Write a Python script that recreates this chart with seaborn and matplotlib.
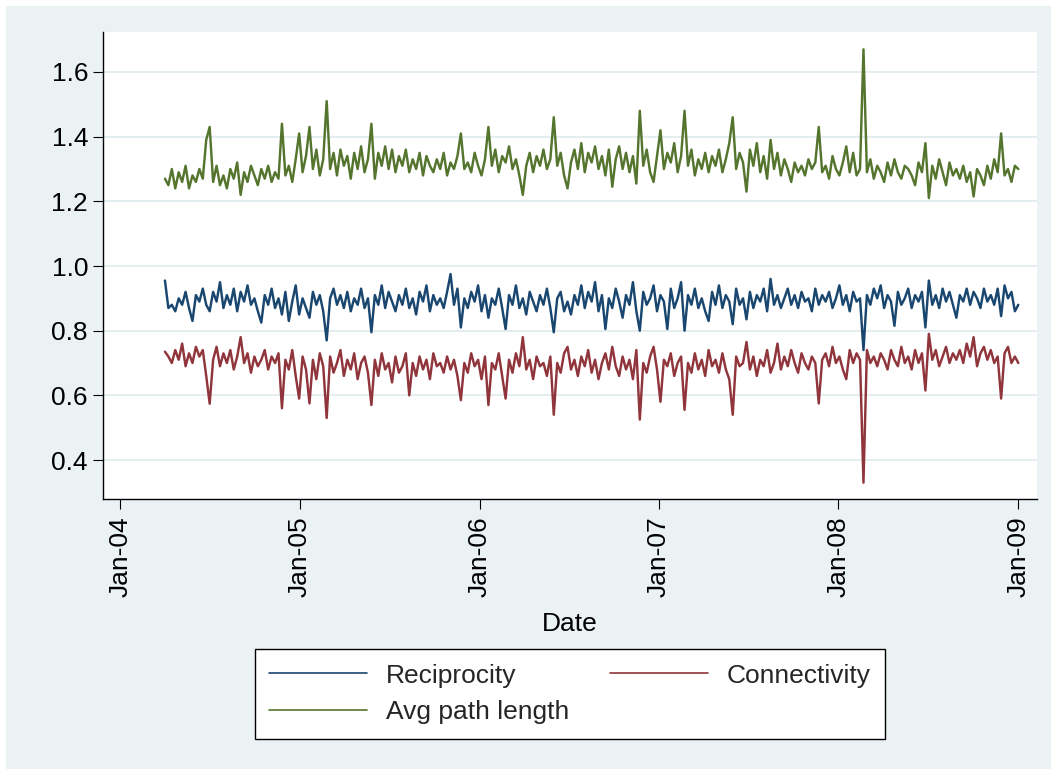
import numpy as np
import pandas as pd
import matplotlib
matplotlib.use("Agg")
import matplotlib.pyplot as plt
import seaborn as sns
from matplotlib.lines import Line2D
from matplotlib.patches import Rectangle

sns.set_theme(style="white")
plt.rcParams["font.family"] = ["Liberation Sans", "DejaVu Sans"]

series_names = ["Reciprocity", "Connectivity", "Avg path length"]
start_date = "2004-04-01"

reciprocity = [
    0.955, 0.87, 0.88, 0.86, 0.90, 0.88, 0.92, 0.87, 0.83, 0.91,
    0.89, 0.93, 0.88, 0.86, 0.92, 0.89, 0.95, 0.87, 0.91, 0.88,
    0.93, 0.86, 0.92, 0.89, 0.94, 0.88, 0.90, 0.86, 0.825, 0.91,
    0.88, 0.93, 0.87, 0.90, 0.85, 0.92, 0.83, 0.89, 0.94, 0.85,
    0.90, 0.87, 0.84, 0.92, 0.88, 0.91, 0.86, 0.77, 0.90, 0.93,
    0.88, 0.91, 0.87, 0.92, 0.86, 0.90, 0.88, 0.93, 0.87, 0.90,
    0.795, 0.91, 0.88, 0.94, 0.87, 0.92, 0.89, 0.86, 0.91, 0.88,
    0.93, 0.87, 0.90, 0.85, 0.92, 0.89, 0.94, 0.86, 0.91, 0.88,
    0.90, 0.87, 0.92, 0.975, 0.88, 0.93, 0.81, 0.90, 0.87, 0.92,
    0.89, 0.94, 0.86, 0.91, 0.84, 0.90, 0.88, 0.93, 0.87, 0.805,
    0.91, 0.88, 0.94, 0.87, 0.90, 0.85, 0.92, 0.89, 0.86, 0.91,
    0.88, 0.93, 0.87, 0.795, 0.90, 0.92, 0.86, 0.89, 0.85, 0.91,
    0.88, 0.94, 0.87, 0.92, 0.89, 0.95, 0.86, 0.91, 0.805, 0.90,
    0.87, 0.93, 0.89, 0.84, 0.91, 0.88, 0.95, 0.86, 0.80, 0.92,
    0.88, 0.90, 0.94, 0.86, 0.91, 0.89, 0.805, 0.93, 0.87, 0.90,
    0.95, 0.80, 0.91, 0.88, 0.93, 0.87, 0.90, 0.86, 0.83, 0.92,
    0.88, 0.94, 0.87, 0.91, 0.89, 0.82, 0.93, 0.88, 0.90, 0.835,
    0.92, 0.87, 0.91, 0.89, 0.93, 0.86, 0.96, 0.88, 0.91, 0.87,
    0.90, 0.93, 0.88, 0.91, 0.87, 0.92, 0.89, 0.90, 0.86, 0.93,
    0.88, 0.91, 0.89, 0.92, 0.87, 0.90, 0.94, 0.88, 0.91, 0.86,
    0.92, 0.89, 0.90, 0.74, 0.91, 0.88, 0.93, 0.90, 0.94, 0.87,
    0.91, 0.89, 0.815, 0.92, 0.88, 0.90, 0.93, 0.87, 0.91, 0.89,
    0.92, 0.81, 0.955, 0.88, 0.91, 0.87, 0.93, 0.89, 0.92, 0.88,
    0.84, 0.91, 0.89, 0.93, 0.88, 0.92, 0.90, 0.87, 0.93, 0.89,
    0.91, 0.88, 0.93, 0.845, 0.94, 0.90, 0.92, 0.86, 0.88,
]

connectivity = [
    0.735, 0.72, 0.70, 0.74, 0.71, 0.76, 0.69, 0.73, 0.70, 0.75,
    0.72, 0.74, 0.66, 0.574, 0.71, 0.75, 0.69, 0.73, 0.70, 0.74,
    0.68, 0.72, 0.78, 0.70, 0.73, 0.67, 0.72, 0.69, 0.71, 0.74,
    0.68, 0.72, 0.70, 0.73, 0.56, 0.71, 0.68, 0.74, 0.66, 0.59,
    0.72, 0.68, 0.575, 0.71, 0.65, 0.73, 0.69, 0.53, 0.72, 0.67,
    0.70, 0.74, 0.66, 0.71, 0.68, 0.73, 0.65, 0.70, 0.72, 0.67,
    0.57, 0.71, 0.66, 0.73, 0.68, 0.70, 0.64, 0.72, 0.67, 0.69,
    0.73, 0.60, 0.70, 0.66, 0.72, 0.68, 0.71, 0.65, 0.73, 0.69,
    0.70, 0.67, 0.72, 0.68, 0.71, 0.66, 0.585, 0.70, 0.67, 0.73,
    0.69, 0.71, 0.65, 0.72, 0.57, 0.70, 0.68, 0.73, 0.66, 0.59,
    0.71, 0.67, 0.73, 0.69, 0.78, 0.68, 0.71, 0.65, 0.72, 0.69,
    0.70, 0.66, 0.72, 0.54, 0.70, 0.67, 0.73, 0.75, 0.68, 0.71,
    0.66, 0.72, 0.69, 0.74, 0.67, 0.71, 0.65, 0.70, 0.73, 0.68,
    0.75, 0.69, 0.66, 0.72, 0.68, 0.71, 0.65, 0.74, 0.525, 0.70,
    0.67, 0.72, 0.75, 0.68, 0.58, 0.71, 0.69, 0.73, 0.66, 0.70,
    0.72, 0.555, 0.70, 0.67, 0.73, 0.68, 0.71, 0.66, 0.74, 0.69,
    0.71, 0.67, 0.73, 0.68, 0.65, 0.54, 0.72, 0.69, 0.70, 0.765,
    0.68, 0.72, 0.66, 0.71, 0.69, 0.74, 0.67, 0.70, 0.76, 0.68,
    0.72, 0.69, 0.74, 0.70, 0.67, 0.73, 0.70, 0.68, 0.72, 0.70,
    0.575, 0.71, 0.73, 0.69, 0.75, 0.70, 0.72, 0.68, 0.65, 0.74,
    0.70, 0.73, 0.71, 0.33, 0.74, 0.70, 0.72, 0.69, 0.73, 0.71,
    0.68, 0.74, 0.71, 0.69, 0.75, 0.70, 0.72, 0.68, 0.74, 0.70,
    0.73, 0.615, 0.79, 0.71, 0.74, 0.69, 0.72, 0.75, 0.70, 0.73,
    0.71, 0.74, 0.70, 0.76, 0.72, 0.78, 0.69, 0.73, 0.75, 0.71,
    0.74, 0.70, 0.72, 0.59, 0.73, 0.75, 0.70, 0.72, 0.70,
]

avg_path_length = [
    1.27, 1.25, 1.30, 1.24, 1.29, 1.26, 1.31, 1.24, 1.28, 1.26,
    1.30, 1.27, 1.39, 1.43, 1.26, 1.31, 1.25, 1.28, 1.24, 1.30,
    1.27, 1.32, 1.22, 1.29, 1.26, 1.31, 1.28, 1.25, 1.30, 1.27,
    1.31, 1.26, 1.29, 1.27, 1.44, 1.28, 1.31, 1.26, 1.33, 1.41,
    1.29, 1.34, 1.43, 1.30, 1.36, 1.28, 1.33, 1.51, 1.30, 1.35,
    1.28, 1.36, 1.31, 1.34, 1.27, 1.35, 1.30, 1.37, 1.29, 1.33,
    1.44, 1.27, 1.35, 1.31, 1.37, 1.30, 1.36, 1.29, 1.34, 1.31,
    1.36, 1.29, 1.33, 1.30, 1.35, 1.28, 1.34, 1.31, 1.29, 1.33,
    1.30, 1.35, 1.28, 1.32, 1.30, 1.34, 1.41, 1.30, 1.32, 1.29,
    1.35, 1.31, 1.28, 1.33, 1.43, 1.31, 1.36, 1.29, 1.34, 1.32,
    1.37, 1.30, 1.33, 1.28, 1.22, 1.31, 1.35, 1.29, 1.34, 1.31,
    1.36, 1.30, 1.33, 1.46, 1.31, 1.35, 1.28, 1.24, 1.32, 1.36,
    1.30, 1.38, 1.29, 1.35, 1.32, 1.37, 1.30, 1.34, 1.28, 1.36,
    1.245, 1.33, 1.37, 1.30, 1.35, 1.29, 1.34, 1.255, 1.48, 1.31,
    1.36, 1.29, 1.26, 1.34, 1.42, 1.30, 1.35, 1.32, 1.38, 1.29,
    1.34, 1.48, 1.31, 1.36, 1.28, 1.33, 1.30, 1.35, 1.29, 1.34,
    1.31, 1.36, 1.29, 1.33, 1.38, 1.46, 1.30, 1.35, 1.32, 1.23,
    1.36, 1.31, 1.38, 1.29, 1.34, 1.27, 1.39, 1.30, 1.35, 1.28,
    1.33, 1.30, 1.26, 1.32, 1.29, 1.31, 1.28, 1.33, 1.30, 1.32,
    1.43, 1.29, 1.31, 1.27, 1.34, 1.30, 1.28, 1.32, 1.37, 1.29,
    1.35, 1.28, 1.30, 1.67, 1.29, 1.33, 1.27, 1.31, 1.29, 1.26,
    1.32, 1.28, 1.33, 1.29, 1.27, 1.31, 1.30, 1.28, 1.25, 1.32,
    1.29, 1.38, 1.21, 1.31, 1.27, 1.33, 1.29, 1.25, 1.32, 1.28,
    1.30, 1.27, 1.31, 1.26, 1.29, 1.215, 1.30, 1.28, 1.25, 1.31,
    1.27, 1.33, 1.29, 1.41, 1.28, 1.30, 1.26, 1.31, 1.30,
]

y_ticks = [0.4, 0.6, 0.8, 1.0, 1.2, 1.4, 1.6]
x_tick_dates = ["2004-01-01", "2005-01-01", "2006-01-01", "2007-01-01", "2008-01-01", "2009-01-01"]
x_tick_labels = ["Jan-04", "Jan-05", "Jan-06", "Jan-07", "Jan-08", "Jan-09"]

# ---------------- build long-form frame ----------------
n = len(reciprocity)
dates = pd.date_range(start_date, periods=n, freq="7D")
df = pd.DataFrame({
    "Date": np.tile(dates, 3),
    "value": reciprocity + connectivity + avg_path_length,
    "series": np.repeat(series_names, n),
})

colors = ["#1A476F", "#90353B", "#55752F"]
bg = "#EAF2F3"

W, H = 1051, 769
fig = plt.figure(figsize=(W / 100, H / 100), dpi=100, facecolor="white")
fig.patches.append(Rectangle((6 / W, 0), 1, 1 - 6 / H, transform=fig.transFigure,
                             facecolor=bg, edgecolor="none", zorder=-10))

ax = fig.add_axes([103 / W, 1 - 499 / H, (1037 - 103) / W, (499 - 32) / H])
ax.set_facecolor("white")

sns.lineplot(data=df, x="Date", y="value", hue="series", hue_order=series_names,
             palette=colors, linewidth=1.75, legend=False, ax=ax)

ax.set_ylim(0.2794, 1.7237)
ax.set_yticks(y_ticks)
ax.set_yticklabels([f"{v:.1f}" for v in y_ticks])
ax.set_xlim(pd.Timestamp("2003-11-27"), pd.Timestamp("2009-02-08"))
ax.set_xticks(pd.to_datetime(x_tick_dates))
ax.set_xticklabels(x_tick_labels, rotation=90)

ax.grid(axis="y", color="#E4EDF0", linewidth=1.4)
ax.grid(axis="x", visible=False)
ax.set_axisbelow(True)

for s in ["top", "right"]:
    ax.spines[s].set_visible(False)
for s in ["left", "bottom"]:
    ax.spines[s].set_color("black")
    ax.spines[s].set_linewidth(1.0)

ax.tick_params(axis="y", which="major", length=7.2, width=0.8, pad=3.6,
               labelsize=19, colors="black", left=True)
ax.tick_params(axis="x", which="major", length=7.2, width=0.8, pad=5.5,
               labelsize=19, colors="black", bottom=True)
ax.set_ylabel("")
ax.set_xlabel("Date", fontsize=19, color="black", labelpad=10.5)

handles = [Line2D([], [], color=colors[i], linewidth=1.2) for i in (0, 2, 1)]
labels = [series_names[i] for i in (0, 2, 1)]
leg = fig.legend(handles, labels, loc="center", bbox_to_anchor=(570 / W, 1 - 694 / H),
                 ncol=2, frameon=True, fancybox=False, edgecolor="black",
                 facecolor="white", framealpha=1, fontsize=19, handlelength=3.7,
                 handletextpad=0.72, columnspacing=1.55, labelspacing=0.48,
                 borderpad=0.55)
leg.get_frame().set_linewidth(1.0)

fig.savefig("out.png", dpi=100, facecolor=fig.get_facecolor())
